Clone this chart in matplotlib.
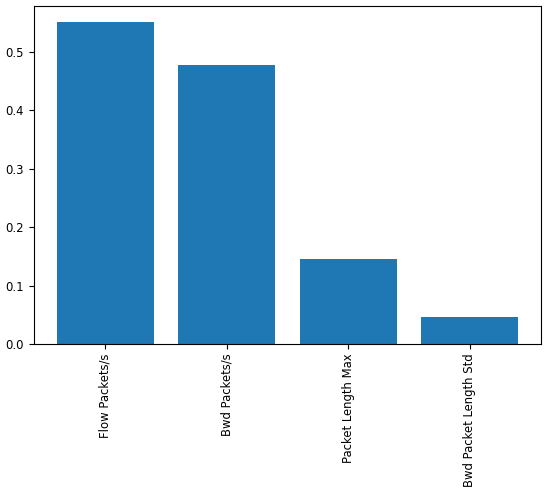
import matplotlib.pyplot as plt

features = ["Flow Packets/s", "Bwd Packets/s", "Packet Length Max", "Bwd Packet Length Std"]
importance = [0.551, 0.477, 0.145, 0.047]

fig = plt.figure(figsize=(5.5, 4.93), dpi=100)
ax = fig.add_axes([0.061, 0.302, 0.923, 0.686])
ax.bar(features, importance, color='#1f77b4')
ax.set_xticks(range(len(features)))
ax.set_xticklabels(features, rotation=90)
ax.tick_params(labelsize=8.4)

fig.savefig('out.png')
